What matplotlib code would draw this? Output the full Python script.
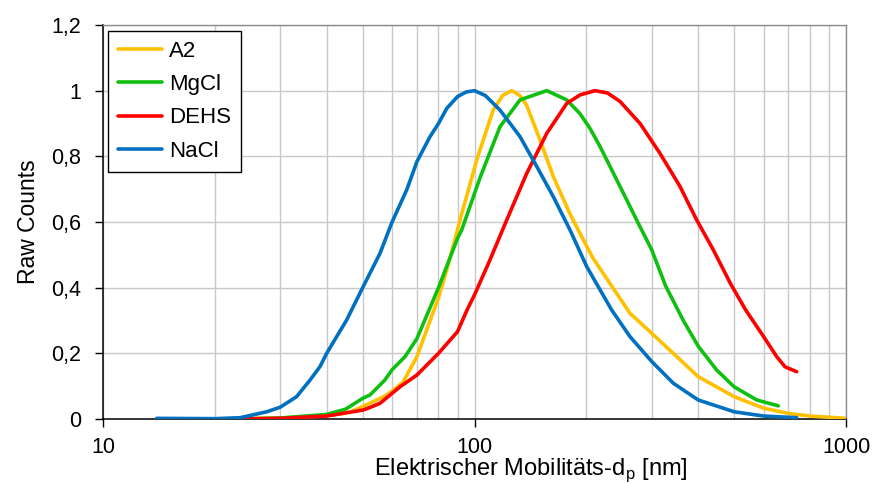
import matplotlib
matplotlib.use("Agg")
import matplotlib.pyplot as plt
from matplotlib.ticker import FixedLocator, FuncFormatter, LogLocator, NullFormatter

plt.rcParams['font.family'] = ['Liberation Sans', 'DejaVu Sans']

# ---- data (diameter in nm, normalised raw counts) ----
a2_x = [25, 30, 40, 46, 52.3, 57.4, 60, 64.2, 70, 80, 84.2, 90, 91.4, 101.4, 103.5, 112.3,
        119, 125.9, 132.6, 138.2, 150.1, 163.0, 180.7, 192.3, 208.4, 254, 262.1, 300,
        342.8, 400, 500, 600, 700, 800, 1000]
a2_y = [0.001, 0.003, 0.01, 0.02, 0.048, 0.07, 0.085, 0.112, 0.19, 0.37, 0.454, 0.576,
        0.606, 0.789, 0.82, 0.941, 0.985, 1.0, 0.985, 0.955, 0.85, 0.738, 0.625, 0.565,
        0.49, 0.345, 0.322, 0.261, 0.2, 0.129, 0.068, 0.033, 0.017, 0.009, 0.002]

mgcl_x = [25, 30, 40, 45, 50, 52.3, 55.7, 57.4, 60, 65, 70, 80, 90, 92.4, 103.5, 117.1,
          132.6, 156.5, 177.1, 192.3, 204.6, 217.7, 246.5, 276, 300, 327, 364.8,
          400, 448.7, 500, 575, 657.4]
mgcl_y = [0.001, 0.003, 0.014, 0.03, 0.063, 0.073, 0.104, 0.119, 0.15, 0.19, 0.245, 0.4,
          0.55, 0.576, 0.735, 0.89, 0.972, 1.0, 0.972, 0.93, 0.885, 0.83, 0.708, 0.596,
          0.515, 0.405, 0.30, 0.222, 0.149, 0.098, 0.058, 0.04]

dehs_x = [23.4, 30, 40, 50, 52.3, 55.7, 63, 67, 70, 80, 90, 95.3, 100, 106.7, 110, 122.1,
          138.2, 156.5, 177.1, 192.3, 211, 228, 246.5, 279, 315.7, 357.5, 396.4, 439.4,
          490, 537, 600, 650.8, 685.3, 736.8]
dehs_y = [0.0, 0.002, 0.009, 0.027, 0.035, 0.048, 0.098, 0.119, 0.134, 0.2, 0.266, 0.33,
          0.378, 0.45, 0.484, 0.606, 0.748, 0.87, 0.961, 0.987, 1.0, 0.993, 0.967, 0.90,
          0.809, 0.708, 0.606, 0.515, 0.41, 0.332, 0.251, 0.19, 0.159, 0.144]

nacl_x = [13.95, 20.0, 23.4, 27.6, 30, 33.2, 36.1, 38.4, 40, 45.3, 50, 55.7, 60, 65.7, 70,
          75.9, 80, 84.2, 90, 95, 100, 107, 117.1, 132.6, 147.1, 163.0, 180.7, 200.5, 234,
          262.1, 300, 342.8, 400, 500, 600, 736.8]
nacl_y = [0.002, 0.001, 0.004, 0.022, 0.036, 0.068, 0.119, 0.16, 0.2, 0.302, 0.4, 0.505,
          0.6, 0.698, 0.784, 0.86, 0.90, 0.946, 0.982, 0.996, 1.0, 0.985, 0.941, 0.86,
          0.769, 0.677, 0.576, 0.464, 0.332, 0.251, 0.175, 0.109, 0.058, 0.022, 0.009,
          0.004]

series = [
    ("A2", a2_x, a2_y, "#FFC000"),
    ("MgCl", mgcl_x, mgcl_y, "#10C010"),
    ("DEHS", dehs_x, dehs_y, "#FF0000"),
    ("NaCl", nacl_x, nacl_y, "#0070C0"),
]

x_ticks = [10, 100, 1000]
y_ticks = [0, 0.2, 0.4, 0.6, 0.8, 1.0, 1.2]

fig = plt.figure(figsize=(8.72, 4.84), dpi=100)
W, H = 872, 484
ax = fig.add_axes([103 / W, (H - 419) / H, (846 - 103) / W, (419 - 25) / H])

for name, xs, ys, col in series:
    ax.plot(xs, ys, color=col, lw=2.6, label=name, solid_capstyle='round',
            solid_joinstyle='round', zorder=3)

ax.set_xscale('log')
ax.set_xlim(10, 1000)
ax.set_ylim(0, 1.2)

ax.xaxis.set_major_locator(FixedLocator(x_ticks))
ax.xaxis.set_major_formatter(FuncFormatter(lambda v, p: f"{int(round(v))}"))
ax.xaxis.set_minor_locator(LogLocator(base=10, subs=range(2, 10)))
ax.xaxis.set_minor_formatter(NullFormatter())
ax.yaxis.set_major_locator(FixedLocator(y_ticks))


def yfmt(v, p):
    s = f"{v:.1f}".rstrip('0').rstrip('.')
    return s.replace('.', ',')


ax.yaxis.set_major_formatter(FuncFormatter(yfmt))

gridc = '#C8C8C8'
ax.grid(True, which='major', axis='both', color=gridc, lw=1.0, zorder=0)
ax.grid(True, which='minor', axis='x', color=gridc, lw=1.0, zorder=0)
ax.set_axisbelow(True)

ax.tick_params(axis='both', which='major', direction='out', length=6, width=1,
               color='black', labelsize=15.5)
ax.tick_params(axis='x', which='major', pad=7)
ax.tick_params(axis='x', which='minor', length=0)
ax.tick_params(axis='y', which='major', pad=10)

for s in ['left', 'bottom']:
    ax.spines[s].set_color('black')
    ax.spines[s].set_linewidth(1.1)
for s in ['top', 'right']:
    ax.spines[s].set_color('#8C8C8C')
    ax.spines[s].set_linewidth(1.0)

fig.text(531 / W, (H - 475) / H, 'Elektrischer Mobilitäts-d$_\\mathregular{p}$ [nm]',
         fontsize=17, ha='center', va='baseline')
ax.set_ylabel('Raw Counts', fontsize=16.5, labelpad=8)

leg = ax.legend(loc='upper left', bbox_to_anchor=(5 / 743, 1 - 6 / 394), borderaxespad=0,
                fontsize=16, frameon=True, fancybox=False, edgecolor='black',
                handlelength=2.0, handletextpad=0.3, labelspacing=0.55, borderpad=0.45)
leg.get_frame().set_linewidth(1.0)
leg.get_frame().set_alpha(1)

fig.savefig('out.png', dpi=100)
